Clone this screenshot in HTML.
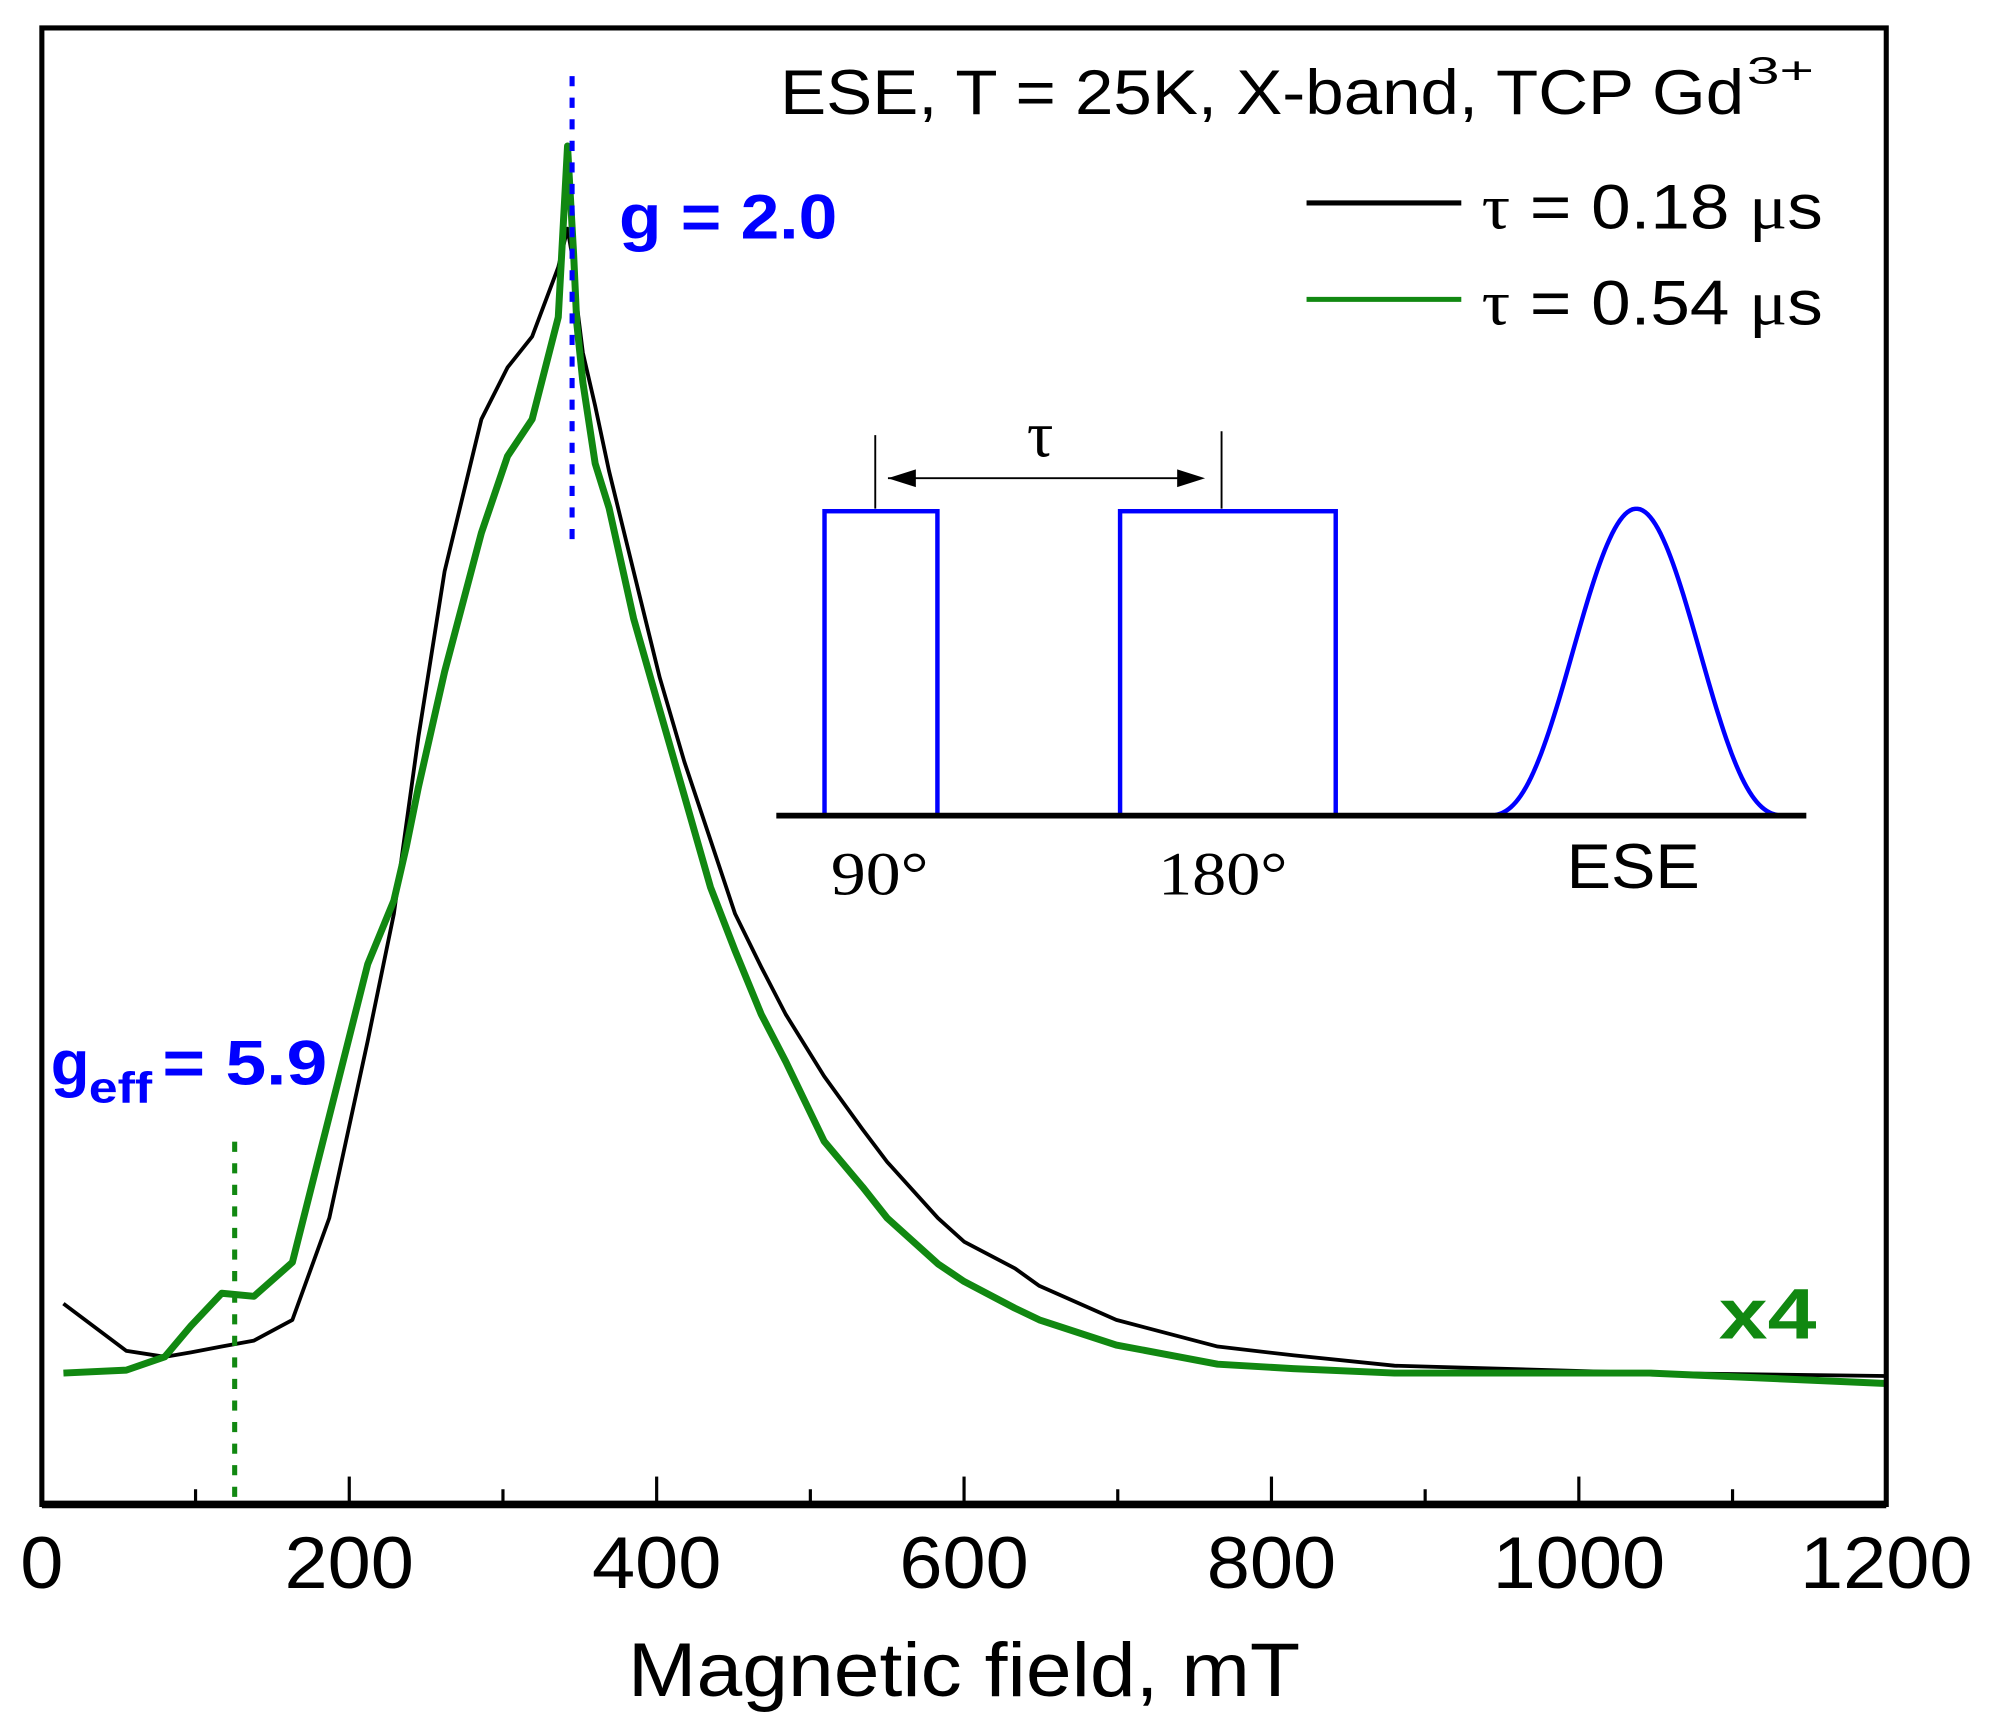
<!DOCTYPE html>
<html><head><meta charset="utf-8"><style>
html,body{margin:0;padding:0;background:#fff}
svg{display:block}
text{font-family:"Liberation Sans",sans-serif}
</style></head><body>
<svg width="1989" height="1729" viewBox="0 0 1568 1363" preserveAspectRatio="none" xmlns="http://www.w3.org/2000/svg">
<g id="plot"></g>
<g>
  <line x1="451" y1="60" x2="451" y2="430" stroke="#0000ff" stroke-width="4" stroke-dasharray="8,9"/>
  <line x1="185" y1="900" x2="185" y2="1184" stroke="#118811" stroke-width="4" stroke-dasharray="8,9"/>
  <text x="615" y="90" font-size="50" textLength="760" lengthAdjust="spacingAndGlyphs">ESE, T = 25K, X-band, TCP Gd</text>
  <text x="1377" y="66" font-size="30" textLength="53" lengthAdjust="spacingAndGlyphs">3+</text>
  <line x1="1030" y1="160" x2="1152" y2="160" stroke="#000" stroke-width="4"/>
  <text x="1168" y="180" font-size="50" textLength="269" lengthAdjust="spacingAndGlyphs"><tspan font-family="Liberation Serif,serif">τ</tspan> = 0.18 <tspan font-family="Liberation Serif,serif">μ</tspan>s</text>
  <line x1="1030" y1="236" x2="1152" y2="236" stroke="#118811" stroke-width="4"/>
  <text x="1168" y="256" font-size="50" textLength="269" lengthAdjust="spacingAndGlyphs"><tspan font-family="Liberation Serif,serif">τ</tspan> = 0.54 <tspan font-family="Liberation Serif,serif">μ</tspan>s</text>
  <text x="488" y="188" font-size="50" font-weight="bold" fill="#0000ff" textLength="172" lengthAdjust="spacingAndGlyphs">g = 2.0</text>
  <text x="40" y="855" font-size="50" font-weight="bold" fill="#0000ff">g</text>
  <text x="70" y="869" font-size="34" font-weight="bold" fill="#0000ff" textLength="50" lengthAdjust="spacingAndGlyphs">eff</text>
  <text x="128" y="855" font-size="50" font-weight="bold" fill="#0000ff" textLength="130" lengthAdjust="spacingAndGlyphs">= 5.9</text>
  <text x="1355" y="1055" font-size="56" font-weight="bold" fill="#118811" textLength="77" lengthAdjust="spacingAndGlyphs">x4</text>
</g>
<g fill="none">
  <rect x="650" y="403" width="89" height="240" stroke="#0000ff" stroke-width="3.5"/>
  <rect x="883" y="403" width="170" height="240" stroke="#0000ff" stroke-width="3.5"/>
  <path id="echo" stroke="#0000ff" stroke-width="3.5"/>
  <line x1="612" y1="643" x2="1424" y2="643" stroke="#000" stroke-width="4.5"/>
  <line x1="690" y1="343" x2="690" y2="401" stroke="#000" stroke-width="1.5"/>
  <line x1="963" y1="340" x2="963" y2="401" stroke="#000" stroke-width="1.5"/>
  <line x1="700" y1="377" x2="945" y2="377" stroke="#000" stroke-width="1.5"/>
  <path d="M700,377 l22,-7 v14 z M950,377 l-22,-7 v14 z" fill="#000"/>
  <text x="820" y="360" font-size="52" text-anchor="middle" fill="#000" style="font-family:'Liberation Serif',serif">τ</text>
  <text x="655" y="705" font-size="48" fill="#000" textLength="77" lengthAdjust="spacingAndGlyphs" style="font-family:'Liberation Serif',serif">90°</text>
  <text x="913" y="705" font-size="48" fill="#000" textLength="102" lengthAdjust="spacingAndGlyphs" style="font-family:'Liberation Serif',serif">180°</text>
  <text x="1235" y="700" font-size="50" fill="#000" textLength="105" lengthAdjust="spacingAndGlyphs">ESE</text>
</g>
<g id="axes"></g>
</svg>
<script>
const fields = [14,55,80,97,117,138,163,187,212,229,237,245,262,286,303,319,336,342,346,348,352,360,369,385,402,418,435,451,468,484,509,534,550,583,600,633,649,699,765,814,880,1046,1200];
const blackSignal = [13.6,10.4,10.0,10.3,10.7,11.1,12.5,19.4,31.4,40,46,52,63.2,73.5,77,79.1,83.8,86.4,84,81.3,78,74.4,70,63.2,56,50.3,45,40,36.4,33.2,29,25.4,23.2,19.4,17.8,16,14.8,12.5,10.7,10.1,9.4,8.9,8.7];
const greenSignal = [8.9,9.1,10,12.1,14.3,14.1,16.4,26.3,36.6,40.9,44.5,48.6,56.4,65.8,71,73.5,80.4,92,84.7,80,76,70.5,67.5,60,53.8,48,41.8,37.5,33.2,30,24.6,21.5,19.4,16.3,15.1,13.3,12.5,10.8,9.5,9.2,8.9,8.9,8.2];
const xTicks = [0,200,400,600,800,1000,1200];
const xMinor = [100,300,500,700,900,1100];
const X0=33,X1=1487,Y0=1186,Y1=22;
const xs = v => X0 + v*(X1-X0)/1200;
const ys = v => Y0 - v*(Y0-Y1)/100;
const NS="http://www.w3.org/2000/svg";
const plot=document.getElementById('plot'), axes=document.getElementById('axes');
function series(vals,color,w,name){
  const p=document.createElementNS(NS,'path');
  p.setAttribute('d',fields.map((f,i)=>(i?'L':'M')+xs(f).toFixed(1)+','+ys(vals[i]).toFixed(1)).join(''));
  p.setAttribute('fill','none');p.setAttribute('stroke',color);p.setAttribute('stroke-width',w);
  p.setAttribute('stroke-linejoin','round');
  
  
  plot.appendChild(p);
}
series(blackSignal,'#000',3,'series-tau-018');
series(greenSignal,'#118811',5.5,'series-tau-054');
let d='';for(let x=1175;x<=1411;x+=2){const t=(x-1290)/118;const c=Math.max(0,0.5+0.5*Math.cos(Math.PI*Math.min(1,Math.abs(t))));const y=643-242*Math.pow(c,1.3);d+=(d?'L':'M')+x+','+y.toFixed(1);}
document.getElementById('echo').setAttribute('d',d);
const fr=document.createElementNS(NS,'path');
fr.setAttribute('d',`M${X0},${Y1}H${X1}V${Y0}H${X0}Z`);fr.setAttribute('fill','none');fr.setAttribute('stroke','#000');fr.setAttribute('stroke-width','4');


axes.appendChild(fr);
const bl=document.createElementNS(NS,'line');
bl.setAttribute('x1',X0);bl.setAttribute('x2',X1);bl.setAttribute('y1',Y0);bl.setAttribute('y2',Y0);bl.setAttribute('stroke','#000');bl.setAttribute('stroke-width','6');
axes.appendChild(bl);
xTicks.forEach(v=>{
  const l=document.createElementNS(NS,'line');
  l.setAttribute('x1',xs(v));l.setAttribute('x2',xs(v));l.setAttribute('y1',Y0);l.setAttribute('y2',Y0-22);l.setAttribute('stroke','#000');l.setAttribute('stroke-width','2.5');
  
  
  axes.appendChild(l);
  const t=document.createElementNS(NS,'text');
  const s=String(v);
  t.setAttribute('x',xs(v));t.setAttribute('y',1252);t.setAttribute('font-size','58');t.setAttribute('text-anchor','middle');
  t.setAttribute('textLength',s.length*34);t.setAttribute('lengthAdjust','spacingAndGlyphs');
  t.textContent=s;
  
  
  axes.appendChild(t);
});
xMinor.forEach(v=>{
  const l=document.createElementNS(NS,'line');
  l.setAttribute('x1',xs(v));l.setAttribute('x2',xs(v));l.setAttribute('y1',Y0);l.setAttribute('y2',Y0-12);l.setAttribute('stroke','#000');l.setAttribute('stroke-width','2.5');
  
  
  axes.appendChild(l);
});
const at=document.createElementNS(NS,'text');
at.setAttribute('x',495);at.setAttribute('y',1337);at.setAttribute('font-size','60');
at.setAttribute('textLength',530);at.setAttribute('lengthAdjust','spacingAndGlyphs');
at.textContent='Magnetic field, mT';


axes.appendChild(at);
</script>
</body></html>
